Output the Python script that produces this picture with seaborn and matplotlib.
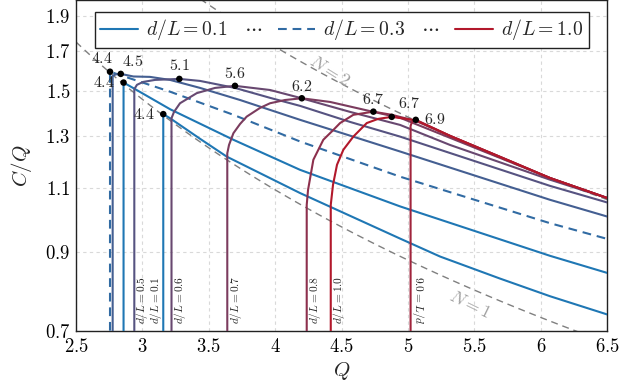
import numpy as np
import pandas as pd
import matplotlib
matplotlib.use("Agg")
import matplotlib.pyplot as plt
import seaborn as sns
from matplotlib.lines import Line2D
from matplotlib.ticker import FixedLocator, FixedFormatter, NullLocator

# ---------------- data ----------------
dL_values = [0.1, 0.2, 0.3, 0.4, 0.5, 0.6, 0.7, 0.8, 0.9, 1.0]

q_01 = [3.157, 3.157, 3.208, 3.434, 3.635, 4.187, 4.940, 5.241, 5.693, 6.069, 6.5]
cq_01 = [0.70, 1.393, 1.375, 1.288, 1.217, 1.084, 0.938, 0.886, 0.826, 0.781, 0.737]

q_02 = [2.858, 2.858, 2.932, 3.208, 3.685, 4.187, 4.940, 6.069, 6.5]
cq_02 = [0.70, 1.540, 1.513, 1.415, 1.284, 1.167, 1.039, 0.888, 0.841]

q_03 = [2.756, 2.756, 2.882, 3.208, 3.685, 4.187, 4.940, 6.069, 6.5]
cq_03 = [0.70, 1.594, 1.566, 1.496, 1.390, 1.277, 1.142, 0.985, 0.937]

q_04 = [2.776, 2.776, 2.801, 2.837, 2.932, 3.057, 3.208, 3.434, 3.735, 4.187, 4.940, 6.069, 6.5]
cq_04 = [0.70, 1.573, 1.581, 1.583, 1.570, 1.568, 1.553, 1.514, 1.457, 1.368, 1.237, 1.061, 1.006]

q_05 = [2.939, 2.939, 2.959, 3.005, 3.095, 3.278, 3.434, 3.697, 3.961, 4.187, 4.563, 4.940, 6.069, 6.5]
cq_05 = [0.70, 1.508, 1.529, 1.543, 1.553, 1.558, 1.548, 1.514, 1.467, 1.430, 1.359, 1.297, 1.109, 1.052]

q_06 = [3.219, 3.219, 3.238, 3.283, 3.409, 3.547, 3.697, 3.961, 4.187, 4.563, 4.940, 5.316, 6.069, 6.5]
cq_06 = [0.70, 1.375, 1.403, 1.442, 1.489, 1.514, 1.524, 1.504, 1.467, 1.403, 1.346, 1.263, 1.131, 1.067]

q_07 = [3.639, 3.639, 3.652, 3.685, 3.735, 3.785, 3.886, 3.961, 4.074, 4.200, 4.413, 4.739, 4.940, 5.316, 5.693, 6.069, 6.5]
cq_07 = [0.70, 1.230, 1.263, 1.311, 1.350, 1.382, 1.421, 1.442, 1.457, 1.465, 1.448, 1.403, 1.377, 1.292, 1.212, 1.137, 1.067]

q_08 = [4.237, 4.237, 4.247, 4.287, 4.362, 4.438, 4.488, 4.588, 4.739, 4.877, 5.060, 5.316, 5.693, 6.069, 6.5]
cq_08 = [0.70, 1.044, 1.095, 1.205, 1.284, 1.325, 1.354, 1.390, 1.404, 1.390, 1.363, 1.300, 1.216, 1.137, 1.067]

q_09 = [5.019, 5.019, 5.030, 5.058, 5.316, 5.693, 6.069, 6.5]
cq_09 = [0.70, 1.342, 1.359, 1.368, 1.300, 1.216, 1.137, 1.067]

q_10 = [4.418, 4.418, 4.435, 4.465, 4.513, 4.588, 4.689, 4.774, 4.877, 5.060, 5.316, 5.693, 6.069, 6.5]
cq_10 = [0.70, 1.044, 1.113, 1.186, 1.244, 1.297, 1.354, 1.372, 1.381, 1.366, 1.300, 1.216, 1.137, 1.067]

curves_q = [q_01, q_02, q_03, q_04, q_05, q_06, q_07, q_08, q_09, q_10]
curves_cq = [cq_01, cq_02, cq_03, cq_04, cq_05, cq_06, cq_07, cq_08, cq_09, cq_10]

# peak markers
peak_q = [2.756, 2.837, 2.858, 3.157, 3.278, 3.697, 4.200, 4.739, 4.877, 5.058]
peak_cq = [1.594, 1.583, 1.540, 1.393, 1.558, 1.524, 1.465, 1.404, 1.381, 1.368]
peak_labels = ["4.4", "4.5", "4.4", "4.4", "5.1", "5.6", "6.2", "6.7", "6.7", "6.9"]

# vertical labels
vlabel_text = ["0.5", "0.1", "0.6", "0.7", "0.8", "1.0", "0.9"]
vlabel_q = [2.997, 3.104, 3.283, 3.705, 4.300, 4.480, 5.075]

# constant-N guide lines (C = const)
N_values = [1, 2]
N_C = [4.38, 6.9]

x_ticks = [2.5, 3, 3.5, 4, 4.5, 5, 5.5, 6, 6.5]
x_ticklabels = ["2.5", "3", "3.5", "4", "4.5", "5", "5.5", "6", "6.5"]
y_ticks = [0.7, 0.9, 1.1, 1.3, 1.5, 1.7, 1.9]
y_ticklabels = ["0.7", "0.9", "1.1", "1.3", "1.5", "1.7", "1.9"]

# ---------------- style ----------------
sns.set_theme(style="white")
plt.rcParams["mathtext.fontset"] = "cm"
plt.rcParams["font.family"] = ["DejaVu Serif"]

blue = np.array([31, 119, 180]) / 255
red = np.array([178, 24, 43]) / 255


def curve_color(d):
    if d <= 0.2:
        return tuple(blue)
    t = (d - 0.2) / 0.8
    return tuple(blue * (1 - t) + red * t)


fig = plt.figure(figsize=(6.28, 3.92), dpi=100)
ax = fig.add_axes([76 / 628, 61.3 / 392, 531.3 / 628, 330.4 / 392])
ax.set_yscale("log")
ax.set_xlim(2.5, 6.5)
ax.set_ylim(0.7, 2.0)

# N guide lines
for n, c in zip(N_values, N_C):
    qq = np.linspace(2.5, 6.5, 120)
    sns.lineplot(x=qq, y=c / qq, ax=ax, color="#808080", lw=1.0,
                 sort=False, estimator=None, zorder=2)
    ax.lines[-1].set_dashes((5, 3.5))

for d, qv, cv in zip(dL_values, curves_q, curves_cq):
    df = pd.DataFrame({"Q": qv, "CQ": cv})
    sns.lineplot(data=df, x="Q", y="CQ", ax=ax, sort=False, estimator=None,
                 color=curve_color(d), lw=1.5, zorder=3)
    if abs(d - 0.3) < 1e-9:
        ax.lines[-1].set_dashes((4.2, 2.8))

sns.scatterplot(x=peak_q, y=peak_cq, ax=ax, color="black", s=22,
                edgecolor="none", zorder=5)

offsets_px = [(-8, 13), (12, 12), (-19.5, 0), (-19, 0), (0, 13), (0, 12),
              (0, 11.5), (0, 12), (17, 13), (19, 0)]
for q, cq, lab, (dx, dy) in zip(peak_q, peak_cq, peak_labels, offsets_px):
    ax.annotate(f"${lab}$", (q, cq), xytext=(dx * 0.72, dy * 0.72),
                textcoords="offset points", ha="center", va="center",
                fontsize=11.5, zorder=6)

for lab, q in zip(vlabel_text, vlabel_q):
    if lab == "0.9":
        txt = r"$9.0 = L/d$"
        rot = 270
    else:
        txt = rf"$d/L = {lab}$"
        rot = 90
    ax.text(q, 0.714, txt, rotation=rot, ha="center", va="bottom",
            fontsize=8.2, zorder=6)

# N labels
ax.text(5.47, 0.762, r"$N = 1$", rotation=-26, ha="center", va="center",
        fontsize=13, color="#a0a0a0")
ax.text(4.41, 1.60, r"$N = 2$", rotation=-32, ha="center", va="center",
        fontsize=13, color="#a0a0a0")

# axes styling
ax.xaxis.set_major_locator(FixedLocator(x_ticks))
ax.xaxis.set_major_formatter(FixedFormatter([f"${t}$" for t in x_ticklabels]))
ax.yaxis.set_major_locator(FixedLocator(y_ticks))
ax.yaxis.set_major_formatter(FixedFormatter([f"${t}$" for t in y_ticklabels]))
ax.yaxis.set_minor_locator(NullLocator())
ax.xaxis.set_minor_locator(NullLocator())
ax.tick_params(axis="x", length=0, labelsize=13.5, pad=5, colors="black")
ax.tick_params(axis="y", length=0, labelsize=13.5, pad=4, colors="black")
ax.grid(True, which="major", color="#d9d9d9", ls=(0, (3, 3)), lw=0.8)
ax.set_axisbelow(True)
for sp in ax.spines.values():
    sp.set_color("#222222")
    sp.set_linewidth(1.0)

ax.set_xlabel(r"$Q$", fontsize=15, labelpad=3)
ax.set_ylabel(r"$C/Q$", fontsize=15, labelpad=8)

handles = [
    Line2D([], [], color=curve_color(0.1), lw=1.5),
    Line2D([], [], color=curve_color(0.3), lw=1.5, dashes=(4.2, 2.8)),
    Line2D([], [], color=curve_color(1.0), lw=1.5),
]
labels = [r"$d/L = 0.1\ \ \ \cdots$", r"$d/L = 0.3\ \ \ \cdots$", r"$d/L = 1.0$"]
leg = ax.legend(handles, labels, loc="upper center", bbox_to_anchor=(0.5, 0.966),
                ncol=3, fontsize=14.2, frameon=True, fancybox=False, framealpha=1,
                edgecolor="#222222", handlelength=1.9, handletextpad=0.4,
                columnspacing=0.8, borderpad=0.3, borderaxespad=0.0)
leg.get_frame().set_linewidth(1.0)

fig.savefig("out.png", dpi=100)
